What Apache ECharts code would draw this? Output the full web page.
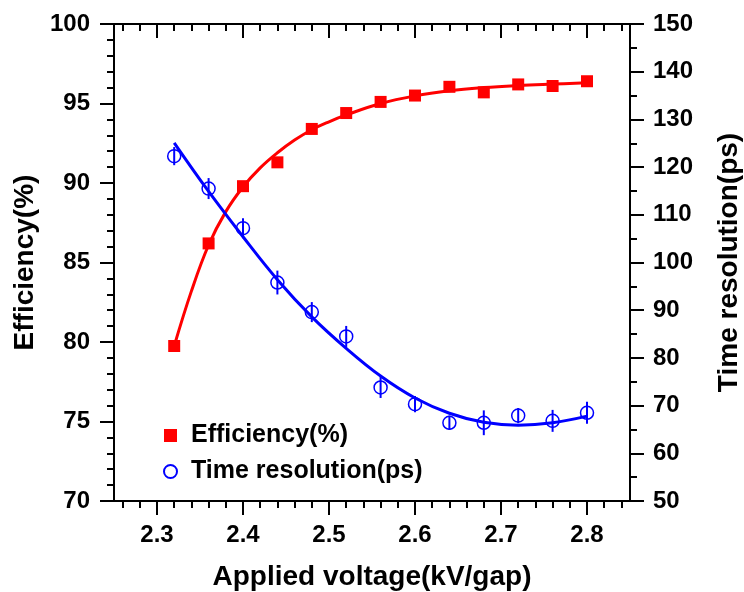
<!DOCTYPE html>
<html>
<head>
<meta charset="utf-8">
<script src="https://cdn.jsdelivr.net/npm/echarts@6/dist/echarts.min.js"></script>
<style>html,body{margin:0;padding:0;background:#fff;}#c{width:744px;height:592px;}</style>
</head>
<body>
<div id="c"></div>
<script>
// ---- data ----
const voltage = [2.32, 2.36, 2.40, 2.44, 2.48, 2.52, 2.56, 2.60, 2.64, 2.68, 2.72, 2.76, 2.80];
const efficiency = [79.75, 86.2, 89.8, 91.3, 93.4, 94.4, 95.1, 95.5, 96.05, 95.7, 96.2, 96.1, 96.4];
const timeRes = [122.3, 115.5, 107.2, 95.8, 89.6, 84.5, 73.8, 70.3, 66.4, 66.4, 67.9, 66.8, 68.5];
const timeErr = [1.9, 2.2, 2.1, 2.5, 2.1, 2.2, 2.2, 1.7, 1.5, 2.6, 1.6, 2.3, 2.3];

// fitted curves
const effFitX = [2.32, 2.34, 2.36, 2.38, 2.40, 2.42, 2.44, 2.46, 2.48, 2.50, 2.52, 2.56, 2.60, 2.64, 2.68, 2.72, 2.76, 2.80];
const effFitY = [79.75, 83.2, 86.1, 88.2, 89.75, 90.95, 91.9, 92.7, 93.35, 93.85, 94.28, 95.0, 95.48, 95.8, 96.0, 96.13, 96.22, 96.3];
const timeFitX = [2.32, 2.36, 2.40, 2.44, 2.48, 2.52, 2.56, 2.60, 2.64, 2.68, 2.72, 2.76, 2.80];
const timeFitY = [125.1, 114.9, 105.4, 96.4, 88.6, 82.0, 76.2, 71.6, 68.4, 66.5, 65.9, 66.4, 67.8];

// axis ticks
const xMajorTicks = [2.3, 2.4, 2.5, 2.6, 2.7, 2.8];
const xMinorTicks = [2.26, 2.28, 2.32, 2.34, 2.36, 2.38, 2.42, 2.44, 2.46, 2.48, 2.52, 2.54, 2.56, 2.58, 2.62, 2.64, 2.66, 2.68, 2.72, 2.74, 2.76, 2.78, 2.82, 2.84];

const FONT = 'Liberation Sans, Arial, Helvetica, sans-serif';
const RED = '#ff0000';
const BLUE = '#0000ff';

function xAxisBase(pos) {
  return {
    type: 'value', min: 2.25, max: 2.85, position: pos, gridIndex: 0,
    splitLine: { show: false }
  };
}

const option = {
  animation: false,
  backgroundColor: '#fff',
  grid: { left: 114, right: 114, top: 24, bottom: 91, containLabel: false, outerBoundsMode: 'none' },
  legend: {
    orient: 'vertical', left: 158, top: 418, itemGap: 11,
    itemWidth: 13, itemHeight: 13,
    data: ['Efficiency(%)', 'Time resolution(ps)'],
    textStyle: { fontFamily: FONT, fontWeight: 'bold', fontSize: 25, color: '#000', padding: [0, 0, 0, 9] }
  },
  xAxis: [
    Object.assign(xAxisBase('bottom'), {
      name: 'Applied voltage(kV/gap)', nameLocation: 'middle', nameGap: 62,
      nameTextStyle: { fontFamily: FONT, fontWeight: 'bold', fontSize: 28, color: '#000' },
      axisLine: { show: true, onZero: false, lineStyle: { color: '#000', width: 2 } },
      axisTick: { show: true, inside: false, length: 14, customValues: xMajorTicks, lineStyle: { color: '#000', width: 2 } },
      axisLabel: { show: true, margin: 22, customValues: xMajorTicks, fontFamily: FONT, fontWeight: 'bold', fontSize: 24, color: '#000' }
    }),
    Object.assign(xAxisBase('bottom'), {
      axisLine: { show: false, onZero: false },
      axisTick: { show: true, inside: false, length: 7, customValues: xMinorTicks, lineStyle: { color: '#000', width: 2 } },
      axisLabel: { show: false }
    }),
    Object.assign(xAxisBase('top'), {
      axisLine: { show: true, onZero: false, lineStyle: { color: '#000', width: 2 } },
      axisTick: { show: true, inside: true, length: 14, customValues: xMajorTicks, lineStyle: { color: '#000', width: 2 } },
      axisLabel: { show: false }
    }),
    Object.assign(xAxisBase('top'), {
      axisLine: { show: false, onZero: false },
      axisTick: { show: true, inside: true, length: 7, customValues: xMinorTicks, lineStyle: { color: '#000', width: 2 } },
      axisLabel: { show: false }
    })
  ],
  yAxis: [
    {
      type: 'value', min: 70, max: 100, interval: 5, position: 'left',
      name: 'Efficiency(%)', nameLocation: 'middle', nameGap: 72,
      nameTextStyle: { fontFamily: FONT, fontWeight: 'bold', fontSize: 28, color: '#000' },
      axisLine: { show: true, onZero: false, lineStyle: { color: '#000', width: 2 } },
      axisTick: { show: true, inside: false, length: 14, lineStyle: { color: '#000', width: 2 } },
      minorTick: { show: true, splitNumber: 5, length: 7, lineStyle: { color: '#000', width: 2 } },
      axisLabel: { margin: 24, fontFamily: FONT, fontWeight: 'bold', fontSize: 24, color: '#000' },
      splitLine: { show: false }
    },
    {
      type: 'value', min: 50, max: 150, interval: 10, position: 'right',
      name: 'Time resolution(ps)', nameLocation: 'middle', nameGap: 85,
      nameTextStyle: { fontFamily: FONT, fontWeight: 'bold', fontSize: 28, color: '#000' },
      axisLine: { show: true, onZero: false, lineStyle: { color: '#000', width: 2 } },
      axisTick: { show: true, inside: false, length: 14, lineStyle: { color: '#000', width: 2 } },
      minorTick: { show: true, splitNumber: 2, length: 7, lineStyle: { color: '#000', width: 2 } },
      axisLabel: { margin: 23, fontFamily: FONT, fontWeight: 'bold', fontSize: 24, color: '#000' },
      splitLine: { show: false }
    }
  ],
  series: [
    {
      name: 'effFit', type: 'line', xAxisIndex: 0, yAxisIndex: 0,
      data: effFitX.map((x, i) => [x, effFitY[i]]),
      smooth: 0.4, showSymbol: false, symbol: 'none',
      lineStyle: { color: RED, width: 3 }, z: 2, silent: true
    },
    {
      name: 'timeFit', type: 'line', xAxisIndex: 0, yAxisIndex: 1,
      data: timeFitX.map((x, i) => [x, timeFitY[i]]),
      smooth: 0.4, showSymbol: false, symbol: 'none',
      lineStyle: { color: BLUE, width: 3 }, z: 2, silent: true
    },
    {
      name: 'Efficiency(%)', type: 'scatter', xAxisIndex: 0, yAxisIndex: 0,
      data: voltage.map((x, i) => [x, efficiency[i]]),
      symbol: 'rect', symbolSize: 12,
      itemStyle: { color: RED, opacity: 1 }, z: 4
    },
    {
      name: 'Time resolution(ps)', type: 'scatter', xAxisIndex: 0, yAxisIndex: 1,
      data: voltage.map((x, i) => [x, timeRes[i]]),
      symbol: 'circle', symbolSize: 13,
      itemStyle: { color: 'rgba(0,0,0,0)', borderColor: BLUE, borderWidth: 1.5, opacity: 1 }, z: 4
    },
    {
      name: 'timeErr', type: 'custom', xAxisIndex: 0, yAxisIndex: 1,
      data: voltage.map((x, i) => [x, timeRes[i], timeErr[i]]),
      encode: { x: 0, y: 1 },
      renderItem: function (params, api) {
        const x = api.value(0), y = api.value(1), e = api.value(2);
        const p1 = api.coord([x, y - e]);
        const p2 = api.coord([x, y + e]);
        return {
          type: 'line',
          shape: { x1: p1[0], y1: p1[1], x2: p2[0], y2: p2[1] },
          style: { stroke: BLUE, lineWidth: 2 }
        };
      },
      z: 5, silent: true
    }
  ]
};

const chart = echarts.init(document.getElementById('c'), null, { renderer: 'canvas' });
chart.setOption(option);
</script>
</body>
</html>
